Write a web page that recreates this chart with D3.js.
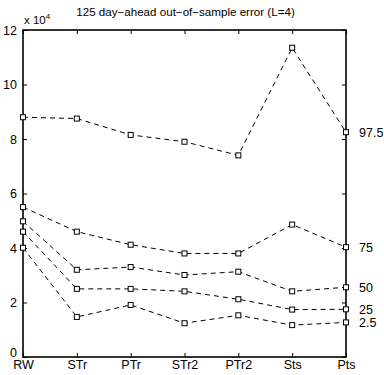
<!DOCTYPE html>
<html>
<head>
<meta charset="utf-8">
<script src="https://cdn.jsdelivr.net/npm/d3@7"></script>
<style>
  html, body { margin: 0; padding: 0; background: #fff; }
  svg { display: block; font-family: "Liberation Sans", Arial, sans-serif; }
</style>
</head>
<body>
<svg id="chart" width="384" height="375"></svg>
<script>
// Forecast models along the x axis
const models = ["RW", "STr", "PTr", "STr2", "PTr2", "Sts", "Pts"];
// Error quantiles (units of 10^4), one line per quantile
const quantileLabels = ["97.5", "75", "50", "25", "2.5"];
const q975 = [8.8, 8.75, 8.15, 7.9, 7.4, 11.35, 8.25];
const q75  = [5.5, 4.6, 4.12, 3.8, 3.8, 4.86, 4.03];
const q50  = [4.98, 3.2, 3.3, 3.01, 3.13, 2.41, 2.56];
const q25  = [4.6, 2.5, 2.5, 2.41, 2.12, 1.74, 1.75];
const q025 = [4.01, 1.47, 1.91, 1.24, 1.53, 1.17, 1.27];
const series = [q975, q75, q50, q25, q025];
const yTicks = [0, 2, 4, 6, 8, 10, 12];
const title = "125 day\u2212ahead out\u2212of\u2212sample error (L=4)";

const svg = d3.select("#chart");
const plotL = 23, plotR = 346, plotT = 30, plotB = 357;

const x = d3.scalePoint().domain(models).range([plotL, plotR]);
const y = d3.scaleLinear().domain([0, 12]).range([plotB, plotT]);

// Axes with inward ticks on all four sides
const axisG = svg.append("g");
const yAxisL = axisG.append("g").attr("transform", `translate(${plotL},0)`)
  .call(d3.axisLeft(y).tickValues(yTicks).tickSize(-4).tickPadding(6).tickFormat(d3.format("d")));
axisG.append("g").attr("transform", `translate(${plotR},0)`)
  .call(d3.axisRight(y).tickValues(yTicks).tickSize(-4).tickFormat(""));
axisG.append("g").attr("transform", `translate(0,${plotB})`)
  .call(d3.axisBottom(x).tickSize(-4).tickPadding(3));
axisG.append("g").attr("transform", `translate(0,${plotT})`)
  .call(d3.axisTop(x).tickSize(-4).tickFormat(""));
axisG.selectAll(".domain").remove();
axisG.selectAll("line").attr("stroke", "#000").attr("stroke-width", 1);
axisG.selectAll("text").attr("fill", "#000").style("font-size", "12.5px");
// the zero label sits on the baseline so it clears the first category label
yAxisL.selectAll("text").filter(d => d === 0).attr("dy", "-0.05em");

// Frame
svg.append("rect")
  .attr("x", plotL).attr("y", plotT)
  .attr("width", plotR - plotL).attr("height", plotB - plotT)
  .attr("fill", "none").attr("stroke", "#000").attr("stroke-width", 1.6);

// Exponent label
const ex = svg.append("text").attr("x", plotL + 1).attr("y", plotT - 6)
  .style("font-size", "11.5px").attr("fill", "#000");
ex.append("tspan").text("x 10");
ex.append("tspan").attr("dy", -5).style("font-size", "8px").text("4");

// Title
svg.append("text").attr("x", (plotL + plotR) / 2 + 1).attr("y", 16)
  .attr("text-anchor", "middle").style("font-size", "11.6px").attr("fill", "#000")
  .text(title);

// Dashed quantile lines with square markers
const line = d3.line().x((d, i) => x(models[i])).y(d => y(d));
const lines = svg.append("g");
series.forEach((vals, k) => {
  lines.append("path").datum(vals)
    .attr("d", line).attr("fill", "none")
    .attr("stroke", "#000").attr("stroke-width", 1)
    .attr("stroke-dasharray", "5,4");
  lines.selectAll(null).data(vals).enter().append("rect")
    .attr("x", (d, i) => x(models[i]) - 2.5)
    .attr("y", d => y(d) - 2.5)
    .attr("width", 5).attr("height", 5)
    .attr("fill", "#fff").attr("stroke", "#000").attr("stroke-width", 1);
  // Quantile label at the right end
  svg.append("text")
    .attr("x", plotR + 13)
    .attr("y", y(vals[vals.length - 1]) + 5)
    .style("font-size", "12.5px").attr("fill", "#000")
    .text(quantileLabels[k]);
});
</script>
</body>
</html>
